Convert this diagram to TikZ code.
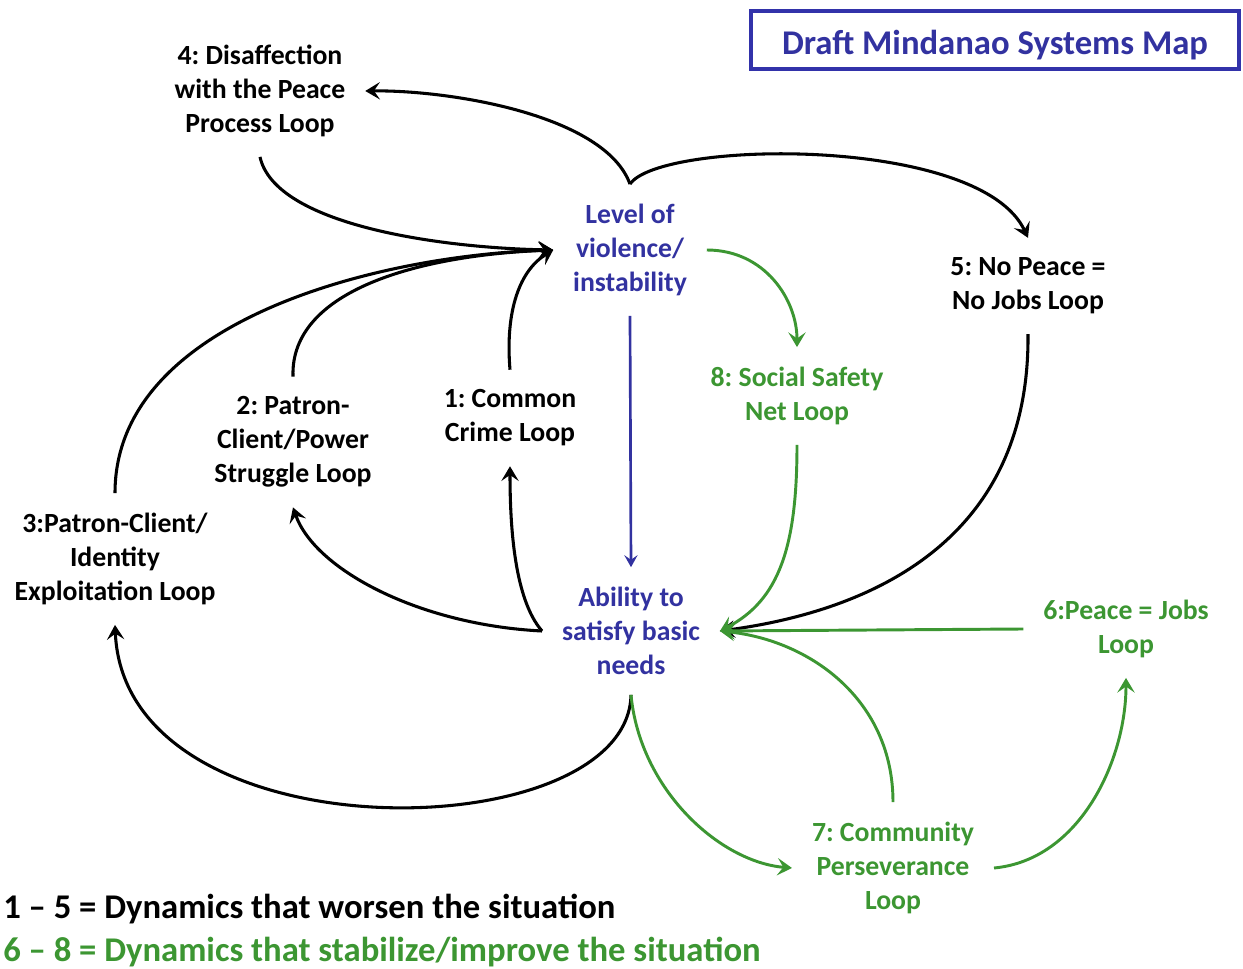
\documentclass[tikz,border=0pt]{standalone}
\usepackage{fontspec}
\setmainfont{Carlito}
\frenchspacing
\usetikzlibrary{arrows.meta}
\definecolor{mblue}{RGB}{50,50,160}
\definecolor{mgreen}{RGB}{60,150,50}
\definecolor{boxblue}{RGB}{50,50,170}
\begin{document}
\begin{tikzpicture}[x=0.75pt,y=-0.75pt,
  lbl/.style={font=\fontsize{20.8}{25.5}\selectfont\bfseries, align=center, inner sep=3pt, outer sep=12pt},
  blk/.style={draw=black, line width=2.3pt, -{Stealth[length=11pt,width=13pt,inset=4.5pt]}},
  grn/.style={draw=mgreen, line width=2.2pt, -{Stealth[length=11pt,width=13pt,inset=4.5pt]}},
  blu/.style={draw=mblue, line width=2pt, -{Stealth[length=9pt,width=10pt,inset=3.5pt]}},
  legend/.style={font=\fontsize{26}{32}\selectfont\bfseries, anchor=base west, inner sep=0pt}
]
\useasboundingbox (0,0) rectangle (1243,969);

% title
\node[draw=boxblue, line width=3pt, minimum width=366pt, minimum height=44pt,
      text height=22.5pt, text depth=0pt,
      font=\fontsize{26}{30}\selectfont\bfseries, text=mblue] (title) at (995,40) {Draft Mindanao Systems Map};

% nodes
\node[lbl] (L4) at (260,91) {4: Disaffection\\with the Peace\\Process Loop};
\node[lbl, text=mblue] (LV) at (630,250) {Level of\\violence/\\instability};
\node[lbl] (L5) at (1028,286) {5: No Peace =\\No Jobs Loop};
\node[lbl, text=mgreen] (L8) at (797,396) {8: Social Safety\\Net Loop};
\node[lbl] (L1) at (510,418) {1: Common\\Crime Loop};
\node[lbl] (L2) at (293,442) {2: Patron-\\Client/Power\\Struggle Loop};
\node[lbl] (L3) at (115,559) {3:Patron-Client/\\Identity\\Exploitation Loop};
\node[lbl, text=mblue] (AB) at (631,631) {Ability to\\satisfy basic\\needs};
\node[lbl, text=mgreen] (L6) at (1126,629) {6:Peace = Jobs\\Loop};
\node[lbl, text=mgreen] (L7) at (893,868) {7: Community\\Perseverance\\Loop};

% legend
\node[legend] (leg1) at (3,918) {1 – 5 = Dynamics that worsen the situation};
\node[legend, text=mgreen] (leg2) at (3,961) {6 – 8 = Dynamics that stabilize/improve the situation};

% black connectors
\draw[blk] (LV.north) .. controls (605,115) and (450,90) .. (L4.east);
\draw[blk] (LV.north) .. controls (660,140) and (980,135) .. (L5.north);
\draw[blk] (L4.south) .. controls (275,225) and (440,248) .. (LV.west);
\draw[blk] (L2.north) .. controls (290,290) and (420,255) .. (LV.west);
\draw[blk] (L3.north) .. controls (115,320) and (380,255) .. (LV.west);
\draw[blk] (L1.north) .. controls (505,310) and (520,270) .. (LV.west);
\draw[blk] (AB.west) .. controls (515,600) and (510,530) .. (L1.south);
\draw[blk] (AB.west) .. controls (420,625) and (315,570) .. (L2.south);
\draw[blk] (AB.south) .. controls (628,850) and (125,860) .. (L3.south);
\draw[blk] (L5.south) .. controls (1030,560) and (840,615) .. (AB.east);

% blue connector
\draw[blu] (LV.south) -- (AB.north);

% green connectors
\draw[grn] (LV.east) .. controls (765,250) and (797,300) .. (L8.north);
\draw[grn] (L8.south) .. controls (797,545) and (780,600) .. (AB.east);
\draw[grn] (L6.west) -- (AB.east);
\draw[grn] (L7.north) .. controls (893,700) and (810,640) .. (AB.east);
\draw[grn] (AB.south) .. controls (640,790) and (720,862) .. (L7.west);
\draw[grn] (L7.east) .. controls (1080,860) and (1126,760) .. (L6.south);
\end{tikzpicture}
\end{document}
